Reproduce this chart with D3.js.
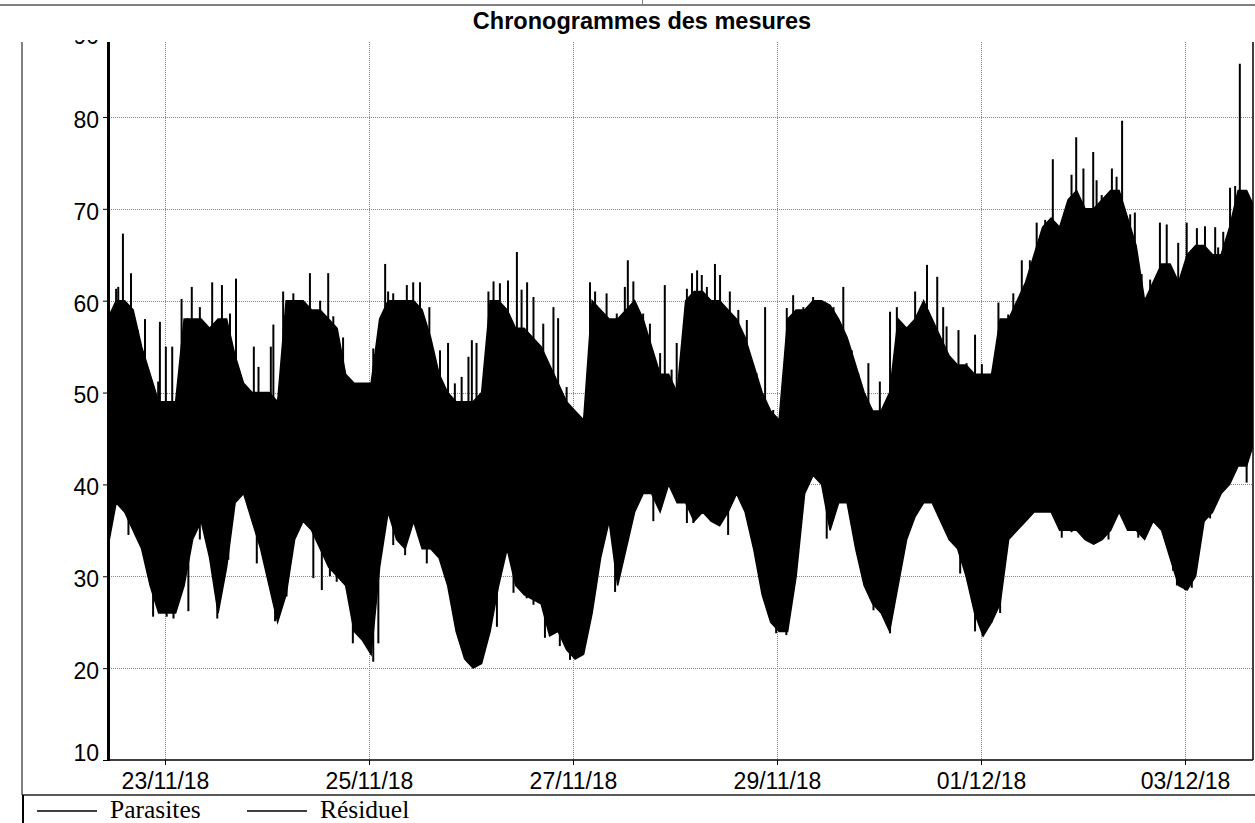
<!DOCTYPE html>
<html>
<head>
<meta charset="utf-8">
<script src="https://d3js.org/d3.v7.min.js"></script>
<style>
  body { margin: 0; background: #fff; }
  svg { display: block; }
</style>
</head>
<body>
<script>
// chart text
var title = "Chronogrammes des mesures"
var legendLabels = ["Parasites", "Résiduel"]
var yTicks = [10, 20, 30, 40, 50, 60, 70, 80, 90]

// measurement envelope, one sample every 2 hours from 22/11/18 10:30
var startTime = new Date(2018, 10, 22, 10, 30)
var stepHours = 2

var hiValues = [
  58, 60, 60, 59, 55, 52, 49, 49, 49, 58, 58, 58,
  57, 58, 58, 54, 51, 50, 50, 50, 49, 60, 60, 60,
  59, 59, 58, 57, 52, 51, 51, 51, 58, 60, 60, 60,
  60, 59, 56, 52, 50, 49, 49, 49, 50, 60, 60, 59,
  57, 57, 56, 55, 53, 51, 49, 48, 47, 60, 59, 58,
  58, 59, 60, 58, 55, 52, 52, 50, 60, 61, 61, 60,
  60, 59, 58, 56, 53, 50, 48, 47, 58, 59, 59, 60,
  60, 59.5, 58, 56, 53, 50, 48, 48, 50, 58, 57, 58,
  60, 58, 56, 54, 53, 53, 52, 52, 52, 58, 58, 60,
  62, 65, 68, 69, 68, 71, 72, 70, 70, 71, 72, 72,
  69, 66, 60, 62, 64, 64, 62, 65, 66, 66, 65, 65,
  68, 72, 72, 70
]

var loValues = [
  33, 38, 37, 35, 33, 29, 26, 26, 26, 29, 34, 36,
  32, 26, 31, 38, 39, 36, 33, 29, 25, 28, 34, 36,
  35, 33, 31, 30, 29, 24, 23, 21.5, 31, 37, 34, 33,
  36, 33, 33, 32, 29, 24, 21, 20, 20.5, 24, 29, 33,
  29, 28, 27.5, 27, 23.5, 24, 22, 21, 21.5, 26, 32, 36,
  29, 33, 37, 39, 39, 37, 40, 38, 38, 36, 37, 36,
  35.5, 37, 39, 37, 33, 28, 25, 24, 24, 30, 39, 41,
  40, 35, 38, 38, 33, 29, 27, 26, 24, 29, 34, 36.5,
  38, 38, 36, 34, 33, 30, 26, 23.5, 25, 27, 34, 35,
  36, 37, 37, 37, 35, 35, 35, 34, 33.5, 34, 35, 37,
  35, 35, 34, 36, 35, 32, 29, 28.5, 30, 36, 37, 39,
  40, 42, 42, 45
]

// upward peaks above the envelope (hours after start, value)
var peakHours = [
  2.0, 2.5, 3.6, 5.5, 7.1, 7.8, 8.8, 11.9, 12.3, 13.7, 15.2, 17.4, 18.8, 19.8, 21.7,
  24.6, 26.9, 28.8, 30.2, 34.4, 35.5, 38.4, 39.0, 41.3, 43.7, 47.6, 50.0, 51.9, 53.1, 54.7,
  55.4, 62.5, 65.3, 66.0, 67.2, 70.4, 71.9, 73.5, 75.7, 78.2, 80.1, 81.7, 83.3, 84.9, 85.7,
  86.8, 89.6, 90.8, 92.3, 94.2, 96.3, 97.4, 98.7, 100.2, 102.5, 104.9, 106.0, 108.0, 113.5, 114.7,
  117.4, 119.8, 121.7, 122.4, 123.7, 126.0, 127.6, 130.0, 131.1, 132.7, 133.9, 136.3, 137.5, 138.7, 139.8,
  141.0, 142.9, 144.1, 146.4, 148.4, 150.4, 152.7, 154.7, 156.6, 159.8, 161.3, 163.7, 166.0, 168.4, 170.8,
  173.1, 175.1, 176.6, 179.0, 181.7, 184.1, 185.7, 188.0, 190.0, 192.8, 195.2, 196.6, 197.4, 200.2, 202.1,
  204.1, 205.7, 208.0, 209.6, 211.9, 213.1, 215.1, 217.0, 218.6, 220.6, 222.4, 224.9, 226.8, 227.9, 229.6,
  231.9, 232.7, 233.9, 236.3, 237.4, 238.7, 240.6, 241.7, 243.3, 245.3, 247.6, 249.2, 251.9, 253.9, 256.3,
  258.2, 260.6, 261.3, 262.5, 264.1, 265.3, 266.4, 269.9
]
var peakValues = [
  61.3, 61.5, 67.3, 63, 56.8, 54.5, 58, 51.2, 57.7, 55, 55, 60.2, 58.1, 61.5, 59.3,
  62, 61.7, 58.6, 62.4, 55, 52.8, 55, 57.4, 61, 60.8, 63, 60, 63, 58.3, 53.5,
  56, 54.8, 64, 61, 60.8, 61.7, 62, 62, 59.3, 54.6, 55.4, 51, 51.7, 53.9, 55.7,
  55.4, 61, 62.1, 61.9, 62.2, 65.3, 61.2, 62, 60.4, 57.5, 59.3, 58.1, 50.6, 62, 61,
  60.8, 58.6, 61.5, 64.4, 62.1, 58.6, 57.5, 54.3, 61.7, 52.5, 55.4, 61.3, 63, 63.3, 62.8,
  61.5, 64, 62.8, 61, 59, 57.9, 52.1, 59.3, 48.1, 59.2, 60.6, 59.3, 60.4, 59.9, 59.3,
  61.5, 54.6, 52.1, 53.2, 51.2, 58.8, 59.3, 56.8, 61, 63.9, 62.6, 59.3, 57.2, 56.8, 53.2,
  56.3, 53.1, 52.1, 59.8, 58.5, 60.8, 64.4, 64.4, 68.5, 68.8, 75.4, 68.3, 73.7, 77.8, 74.4,
  76.2, 73.1, 71.5, 74.4, 73.5, 79.6, 69.4, 69.6, 62.9, 62.3, 68.5, 68.3, 66.3, 68.5, 67.9,
  68.1, 68, 65.8, 67.5, 72.3, 72.5, 85.8, 76
]

// downward dips below the envelope (hours after start, value)
var dipHours = [
  4.9, 10.7, 11.9, 13.9, 15.5, 19.0, 21.7, 25.8, 28.4, 35.1, 37.4, 39.4, 42.1, 48.4, 50.4,
  52.3, 53.9, 57.7, 59.8, 61.0, 62.5, 63.7, 67.2, 70.0, 75.1, 80.2, 91.6, 95.5, 98.6, 100.2,
  102.9, 106.4, 108.8, 111.2, 113.9, 119.4, 120.6, 128.4, 136.3, 137.8, 146.0, 154.3, 157.3, 159.7, 169.2,
  177.0, 180.2, 184.1, 200.6, 202.5, 204.1, 205.9, 208.0, 210.0, 224.5, 226.8, 230.4, 231.9, 235.5, 240.6,
  242.5, 250.7, 251.6, 253.5, 255.1, 259.4, 268.0
]
var dipValues = [
  34.5, 25.6, 26.7, 25.6, 25.4, 26.2, 34, 25.4, 31.8, 31.4, 31, 25.1, 27.8, 29.8, 28.5,
  30, 29.4, 22.7, 23.4, 22.4, 20.7, 22.7, 33.4, 32.3, 31.4, 30, 24.5, 28.2, 27.6, 26.9,
  23.3, 22.4, 20.9, 21.4, 27.6, 28.3, 30.5, 36, 35.8, 35.8, 34.5, 27.8, 23.8, 23.6, 34.1,
  31.4, 26.3, 23.8, 30.3, 29.2, 24, 23.5, 25, 26, 34.2, 34.8, 34.2, 33.5, 34, 35,
  34.2, 30.6, 29, 28.5, 28.75, 36.3, 40.2
]

var w = 1255
var h = 823
var plotLeft = 107
var plotRight = 1253
var plotTop = 42
var plotBottom = 760

var data = hiValues.map(function(v, i) {
  return { time: d3.timeHour.offset(startTime, i * stepHours), hi: v, lo: loValues[i] }
})
function toPoints(hours, values) {
  return hours.map(function(hr, i) {
    return { time: new Date(startTime.getTime() + hr * 3600000), value: values[i] }
  })
}
var spikes = toPoints(peakHours, peakValues).concat(toPoints(dipHours, dipValues))

var xScale = d3.scaleTime()
  .domain([new Date(2018, 10, 23), new Date(2018, 11, 3)])
  .range([165, 1185])

var yScale = d3.scaleLinear()
  .domain([10, 90])
  .range([plotBottom, plotBottom - 80 * 9.186])

var xTicks = d3.timeDay.every(2).range(new Date(2018, 10, 23), new Date(2018, 11, 4))

var svg = d3.select("body")
  .append("svg")
  .attr("width", w)
  .attr("height", h)

svg.append("rect").attr("width", w).attr("height", h).attr("fill", "#fff")

var defs = svg.append("defs")
defs.append("clipPath").attr("id", "plotClip")
  .append("rect")
  .attr("x", plotLeft).attr("y", plotTop)
  .attr("width", plotRight - plotLeft).attr("height", plotBottom - plotTop)
defs.append("clipPath").attr("id", "labelClip")
  .append("rect")
  .attr("x", 0).attr("y", 40)
  .attr("width", w).attr("height", h)

// outer frame bits
svg.append("line")
  .attr("x1", 0).attr("x2", w).attr("y1", 5).attr("y2", 5)
  .attr("stroke", "#808080").attr("stroke-width", 2)
svg.append("line")
  .attr("x1", 642.5).attr("x2", 642.5).attr("y1", 0).attr("y2", 5)
  .attr("stroke", "#808080")
svg.append("line")
  .attr("x1", 22).attr("x2", 22).attr("y1", plotTop).attr("y2", 795)
  .attr("stroke", "#808080").attr("stroke-width", 2)

// title
svg.append("text")
  .attr("x", 642)
  .attr("y", 29)
  .attr("text-anchor", "middle")
  .style("font-family", "'Liberation Sans', Arial, sans-serif")
  .style("font-weight", "bold")
  .style("font-size", "23.5px")
  .text(title)

// grid
var grid = svg.append("g").attr("clip-path", "url(#plotClip)")
grid.selectAll(".vgrid")
  .data(xTicks)
  .enter().append("line")
  .attr("x1", function(d) { return Math.round(xScale(d)) + 0.5 })
  .attr("x2", function(d) { return Math.round(xScale(d)) + 0.5 })
  .attr("y1", plotTop).attr("y2", plotBottom)
  .attr("stroke", "#888").attr("stroke-dasharray", "1,1")
grid.selectAll(".hgrid")
  .data(yTicks.filter(function(d) { return d > 10 && d < 90 }))
  .enter().append("line")
  .attr("x1", plotLeft).attr("x2", plotRight)
  .attr("y1", function(d) { return Math.round(yScale(d)) + 0.5 })
  .attr("y2", function(d) { return Math.round(yScale(d)) + 0.5 })
  .attr("stroke", "#888").attr("stroke-dasharray", "1,1")

// signal
var band = svg.append("g").attr("clip-path", "url(#plotClip)")
var area = d3.area()
  .x(function(d) { return xScale(d.time) })
  .y0(function(d) { return yScale(d.lo) })
  .y1(function(d) { return yScale(d.hi) })
band.append("path")
  .datum(data)
  .attr("d", area)
  .attr("fill", "#000")
  .attr("stroke", "#000")
  .attr("stroke-width", 1.5)
band.selectAll(".spike")
  .data(spikes)
  .enter().append("line")
  .attr("x1", function(d) { return xScale(d.time) })
  .attr("x2", function(d) { return xScale(d.time) })
  .attr("y1", function(d) { return yScale(d.value) })
  .attr("y2", yScale(44))
  .attr("stroke", "#000")
  .attr("stroke-width", 2)

// x axis
var xAxis = d3.axisBottom(xScale)
  .tickValues(xTicks)
  .tickFormat(d3.timeFormat("%d/%m/%y"))
  .tickSize(5)
  .tickPadding(8)
var gx = svg.append("g")
  .attr("transform", "translate(0," + plotBottom + ")")
  .call(xAxis)
gx.select(".domain").remove()
gx.selectAll("text")
  .attr("fill", "#000")
  .style("font-family", "'Liberation Sans', Arial, sans-serif")
  .style("font-size", "23px")
svg.append("line")
  .attr("x1", plotLeft).attr("x2", plotRight)
  .attr("y1", plotBottom).attr("y2", plotBottom)
  .attr("stroke", "#000").attr("stroke-width", 1.5)

// y axis
var yAxis = d3.axisLeft(yScale)
  .tickValues(yTicks)
  .tickSize(4)
  .tickPadding(4)
var gy = svg.append("g")
  .attr("clip-path", "url(#labelClip)")
  .append("g")
  .attr("transform", "translate(" + plotLeft + ",0)")
  .call(yAxis)
gy.select(".domain").remove()
gy.selectAll("text")
  .attr("fill", "#000")
  .attr("dy", function(d) { return d == 10 ? "0em" : d == 90 ? "0.8em" : "0.45em" })
  .style("font-family", "'Liberation Sans', Arial, sans-serif")
  .style("font-size", "23px")
svg.append("line")
  .attr("x1", plotLeft + 1.5).attr("x2", plotLeft + 1.5)
  .attr("y1", plotTop).attr("y2", plotBottom + 1)
  .attr("stroke", "#000").attr("stroke-width", 3)
svg.append("line")
  .attr("x1", plotRight).attr("x2", plotRight)
  .attr("y1", plotTop).attr("y2", plotBottom)
  .attr("stroke", "#000").attr("stroke-width", 1.5)

// legend
svg.append("line")
  .attr("x1", 22).attr("x2", w).attr("y1", 795).attr("y2", 795)
  .attr("stroke", "#222").attr("stroke-width", 1.5)
svg.append("line")
  .attr("x1", 23).attr("x2", 23).attr("y1", 795).attr("y2", h)
  .attr("stroke", "#000").attr("stroke-width", 2)

var legend = svg.selectAll(".legend")
  .data(legendLabels)
  .enter().append("g")
  .attr("class", "legend")
  .attr("transform", function(d, i) { return "translate(" + (37 + i * 210) + ",0)" })
legend.append("line")
  .attr("x1", 0).attr("x2", 60)
  .attr("y1", 811).attr("y2", 811)
  .attr("stroke", "#000").attr("stroke-width", 1.5)
legend.append("text")
  .attr("x", 73)
  .attr("y", 818)
  .style("font-family", "'Liberation Serif', 'Times New Roman', serif")
  .style("font-size", "25.5px")
  .text(function(d) { return d })
</script>
</body>
</html>
